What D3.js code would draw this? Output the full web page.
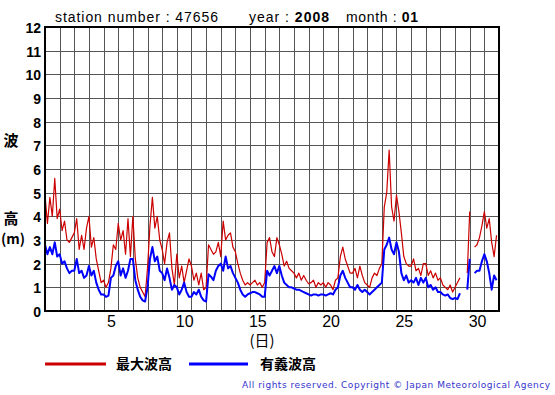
<!DOCTYPE html>
<html><head><meta charset="utf-8">
<script src="https://cdn.jsdelivr.net/npm/d3@7"></script>
<style>body{margin:0;background:#fff}svg{display:block}</style>
</head><body><svg id="c" width="555" height="395"></svg>
<script>
// ---- data ----
const yTicks = [0,1,2,3,4,5,6,7,8,9,10,11,12];
const xTickDays = [5,10,15,20,25,30];
const samplesPerDay = 6;
// 最大波高 (m), 6 samples per day, days 1..31
const maxWave = [
 4.9,3.7,4.8,4.0,5.6,3.9,
 4.3,3.4,3.8,3.0,2.9,3.1,
 3.3,3.9,2.6,3.2,2.6,3.5,
 4.0,2.7,3.1,2.2,1.7,1.2,
 1.3,1.0,1.2,1.8,2.8,2.6,
 3.7,3.0,3.4,2.4,3.9,2.3,
 4.0,2.2,1.4,1.0,0.8,0.6,
 1.8,3.6,4.8,3.5,4.0,3.0,
 2.6,2.0,2.9,3.3,1.8,1.1,
 2.4,1.4,1.9,1.2,1.7,2.2,
 1.9,1.3,1.6,1.1,1.6,0.9,
 1.0,2.8,2.6,2.4,2.5,2.9,
 2.3,3.8,3.0,3.2,3.3,2.7,
 2.5,2.0,1.6,1.3,1.1,1.2,
 1.1,1.2,1.3,1.1,1.2,1.0,
 1.2,2.9,3.1,2.5,2.3,3.1,
 2.8,2.4,1.9,2.1,1.8,1.7,
 1.6,1.4,1.6,1.3,1.5,1.3,
 1.15,1.2,1.3,1.0,1.2,1.1,
 1.2,1.0,1.2,1.1,0.9,1.3,
 1.4,2.3,2.7,2.2,1.9,1.6,
 1.6,1.8,1.4,1.9,1.5,1.2,
 1.1,1.0,1.4,1.6,1.5,1.8,
 2.0,4.4,5.0,6.8,4.4,3.8,
 4.9,4.2,3.3,2.3,2.0,1.9,
 1.9,2.2,1.7,1.8,1.5,2.0,
 2.0,1.5,1.7,1.4,1.6,1.3,
 1.4,1.1,1.0,0.9,1.1,0.8,
 1.0,1.2,1.4,null,null,1.6,
 4.2,null,2.7,2.8,3.1,3.6,
 4.2,3.5,3.9,2.9,2.3,3.2
];
// 有義波高 (m)
const sigWave = [
 2.8,2.4,2.7,2.4,2.9,2.3,
 2.4,2.0,2.1,1.8,1.6,1.7,
 1.7,2.2,1.6,1.7,1.4,1.5,
 1.9,1.5,1.7,1.2,0.9,0.7,
 0.7,0.6,0.65,1.4,1.5,1.9,
 2.1,1.5,1.8,1.4,1.7,2.2,
 2.2,1.3,0.9,0.6,0.45,0.4,
 1.0,2.2,2.7,2.1,2.3,1.7,
 1.6,1.3,1.8,1.4,0.9,1.1,
 1.0,0.7,0.9,1.2,0.8,0.6,
 0.6,0.8,0.7,0.9,0.6,0.45,
 0.4,1.55,1.45,1.3,1.7,1.9,
 2.0,1.7,2.3,1.8,1.9,1.6,
 1.4,1.2,0.9,0.7,0.6,0.7,
 0.75,0.8,0.8,0.75,0.7,0.6,
 0.6,1.7,1.5,1.7,1.9,1.6,
 1.9,1.5,1.2,1.1,1.0,1.0,
 0.95,0.9,0.9,0.85,0.8,0.75,
 0.7,0.65,0.7,0.7,0.65,0.7,
 0.7,0.65,0.7,0.75,0.7,0.9,
 1.0,1.5,1.7,1.4,1.2,1.0,
 1.0,0.9,1.1,0.9,0.8,0.9,
 0.8,0.7,0.8,0.9,1.0,1.1,
 1.2,2.6,2.8,3.1,2.6,2.4,
 2.9,2.5,1.6,1.3,1.5,1.2,
 1.3,1.2,1.4,1.1,1.4,1.2,
 1.4,1.0,1.1,0.9,1.0,0.8,
 0.8,0.7,0.65,0.7,0.55,0.5,
 0.55,0.5,0.75,null,null,0.9,
 2.2,null,1.6,1.7,1.7,2.1,
 2.4,2.1,1.6,0.9,1.5,1.3
];
const seriesNames = ["最大波高","有義波高"];
const seriesColors = ["#cc0000","#0000ff"];

// ---- chart ----
const svg = d3.select("#c");
const L=45, R=499, T=27, B=311;
const x = d3.scaleLinear().domain([1,32]).range([L,R]);
const y = d3.scaleLinear().domain([0,12]).range([B,T]);

// grid
svg.append("g").attr("transform",`translate(${L},0)`)
  .call(d3.axisLeft(y).tickValues(d3.range(1,12)).tickSize(-(R-L)).tickFormat(""))
  .call(g=>g.select(".domain").remove())
  .call(g=>g.selectAll("line").attr("stroke","#555").attr("stroke-width",1).attr("shape-rendering","crispEdges"));
svg.append("g").attr("transform",`translate(0,${B})`)
  .call(d3.axisBottom(x).tickValues(d3.range(2,32)).tickSize(-(B-T)).tickFormat(""))
  .call(g=>g.select(".domain").remove())
  .call(g=>g.selectAll("line").attr("stroke","#555").attr("stroke-width",1).attr("shape-rendering","crispEdges"));

// lines
const mk = arr => arr.map((v,i)=>({t:1+i/samplesPerDay, v}));
const line = d3.line().defined(d=>d.v!=null).x(d=>x(d.t)).y(d=>y(d.v));
svg.append("path").datum(mk(maxWave)).attr("d",line)
  .attr("fill","none").attr("stroke",seriesColors[0]).attr("stroke-width",1.2).attr("stroke-linejoin","round");
svg.append("path").datum(mk(sigWave)).attr("d",line)
  .attr("fill","none").attr("stroke",seriesColors[1]).attr("stroke-width",2).attr("stroke-linejoin","round");

// border
svg.append("rect").attr("x",L).attr("y",T).attr("width",R-L).attr("height",B-T)
  .attr("fill","none").attr("stroke","#000").attr("stroke-width",2);

// y labels
svg.append("g").attr("transform",`translate(${L},0)`)
  .call(d3.axisLeft(y).tickValues(yTicks).tickSize(0).tickPadding(4))
  .call(g=>g.select(".domain").remove())
  .call(g=>g.selectAll("text").attr("font-family","Liberation Sans, Arial, sans-serif")
     .attr("font-size",14).attr("font-weight","bold").attr("fill","#000").attr("dy","0.4em"));

// x labels
svg.append("g").attr("transform",`translate(0,${B})`)
  .call(d3.axisBottom(x.copy().domain([0.5,31.5])).tickValues(xTickDays).tickSize(0).tickPadding(4))
  .call(g=>g.select(".domain").remove())
  .call(g=>g.selectAll("text").attr("font-family","Liberation Sans, Arial, sans-serif")
     .attr("font-size",16).attr("fill","#000").attr("dy","0.75em"));

const jp = "Noto Sans CJK JP, sans-serif";
svg.append("text").attr("x",262).attr("y",346).attr("text-anchor","middle")
  .attr("font-family",jp).attr("font-size",15).text("(日)");

// y title
svg.append("text").attr("x",11).attr("y",146).attr("text-anchor","middle").attr("font-family",jp).attr("font-size",15).attr("font-weight","bold").text("波");
svg.append("text").attr("x",11).attr("y",224).attr("text-anchor","middle").attr("font-family",jp).attr("font-size",15).attr("font-weight","bold").text("高");
svg.append("text").attr("x",13).attr("y",244).attr("text-anchor","middle").attr("font-family",jp).attr("font-size",14).attr("font-weight","bold").text("(m)");

// title
const tf = "Liberation Sans, Arial, sans-serif";
const t1 = svg.append("text").attr("x",55).attr("y",22).attr("font-family",tf).attr("font-size",14)
  .attr("textLength",163).attr("lengthAdjust","spacing");
t1.append("tspan").text("station number : 47656");
const t2 = svg.append("text").attr("x",249).attr("y",22).attr("font-family",tf).attr("font-size",14)
  .attr("textLength",80).attr("lengthAdjust","spacing");
t2.append("tspan").text("year : ");
t2.append("tspan").attr("font-weight","bold").text("2008");
const t3 = svg.append("text").attr("x",346).attr("y",22).attr("font-family",tf).attr("font-size",14)
  .attr("textLength",72).attr("lengthAdjust","spacing");
t3.append("tspan").text("month : ");
t3.append("tspan").attr("font-weight","bold").text("01");

// legend
const lg = [[45,106,116],[189,248,260]];
lg.forEach((p,i)=>{
  svg.append("line").attr("x1",p[0]).attr("x2",p[1]).attr("y1",364).attr("y2",364)
    .attr("stroke",seriesColors[i]).attr("stroke-width",3);
  svg.append("text").attr("x",p[2]).attr("y",369).attr("font-family",jp).attr("font-size",14)
    .attr("font-weight","bold").text(seriesNames[i]);
});

// copyright
svg.append("text").attr("x",242).attr("y",388).attr("font-family","DejaVu Sans, sans-serif")
  .attr("font-size",9).attr("fill","#3333cc").attr("textLength",308).attr("lengthAdjust","spacing")
  .text("All rights reserved. Copyright © Japan Meteorological Agency");
</script></body></html>
